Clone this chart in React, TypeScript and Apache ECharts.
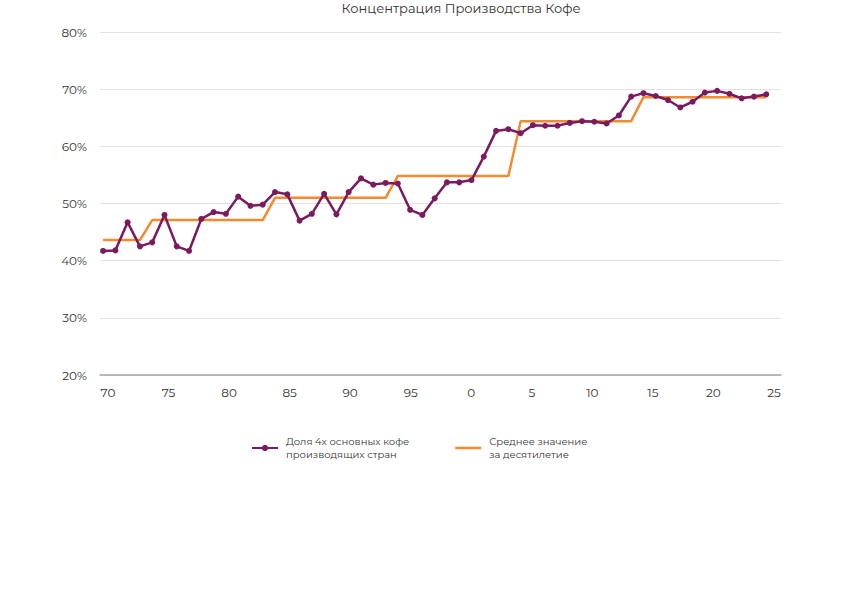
import React, { useEffect, useRef } from "react";
import * as echarts from "echarts";

const years: number[] = [];
for (let y = 1970; y <= 2024; y++) years.push(y);

const shareTop4: number[] = [
  41.7, 41.8, 46.7, 42.5, 43.2, 48.0, 42.5, 41.7, 47.3, 48.5,
  48.2, 51.2, 49.6, 49.8, 52.0, 51.6, 47.0, 48.2, 51.7, 48.1,
  52.0, 54.4, 53.3, 53.6, 53.5, 48.9, 48.0, 50.9, 53.7, 53.7,
  54.1, 58.2, 62.7, 63.0, 62.3, 63.7, 63.6, 63.6, 64.1, 64.4,
  64.3, 64.0, 65.4, 68.7, 69.3, 68.8, 68.1, 66.8, 67.8, 69.4,
  69.7, 69.2, 68.4, 68.7, 69.1,
];

const decadeAvg: number[] = [
  43.6, 43.6, 43.6, 43.6,
  47.1, 47.1, 47.1, 47.1, 47.1, 47.1, 47.1, 47.1, 47.1, 47.1,
  51.0, 51.0, 51.0, 51.0, 51.0, 51.0, 51.0, 51.0, 51.0, 51.0,
  54.8, 54.8, 54.8, 54.8, 54.8, 54.8, 54.8, 54.8, 54.8, 54.8,
  64.4, 64.4, 64.4, 64.4, 64.4, 64.4, 64.4, 64.4, 64.4, 64.4,
  68.6, 68.6, 68.6, 68.6, 68.6, 68.6, 68.6, 68.6, 68.6, 68.6, 68.6,
];

const xTicks: number[] = [1970, 1975, 1980, 1985, 1990, 1995, 2000, 2005, 2010, 2015, 2020, 2025];

const title = "Концентрация Производства Кофе";
const seriesNames = ["Доля 4х основных кофе\nпроизводящих стран", "Среднее значение\nза десятилетие"];

const FONT = "Montserrat, 'Noto Sans', sans-serif";
const PURPLE = "#7b1b5f";
const ORANGE = "#f28a2e";

export default function App() {
  const ref = useRef<HTMLDivElement>(null);
  useEffect(() => {
    if (!ref.current) return;
    const chart = echarts.init(ref.current, undefined, { renderer: "svg" });
    chart.setOption({
      animation: false,
      backgroundColor: "#ffffff",
      textStyle: { fontFamily: FONT },
      title: {
        text: title,
        left: 456,
        textAlign: "center",
        top: -4,
        textStyle: { fontSize: 13, fontWeight: "normal", color: "#333333", fontFamily: FONT },
      },
      grid: { left: 100, right: 61, top: 32, bottom: 220, containLabel: false },
      legend: {
        top: 430,
        left: 246,
        itemGap: 46,
        itemWidth: 26,
        itemHeight: 8,
        textStyle: { fontSize: 10, color: "#333333", fontFamily: FONT, lineHeight: 13, padding: [0, 0, 0, 3] },
        data: [
          { name: seriesNames[0] },
          {
            name: seriesNames[1],
            icon: "path://M0,0 L0.01,0 L0.01,0.01 Z M0,2.75 L26,2.75 L26,5.25 L0,5.25 Z M25.99,7.99 L26,8 L25.99,8 Z",
          },
        ],
      },
      xAxis: [
        {
          type: "value",
          min: 1969.75,
          max: 2025.2,
          splitLine: { show: false },
          axisLine: { show: true, lineStyle: { color: "#a6a6a6", width: 1.5 } },
          axisTick: { show: false },
          axisLabel: { show: false },
        },
        {
          type: "value",
          position: "bottom",
          min: 1969.34,
          max: 2025.58,
          splitLine: { show: false },
          axisLine: { show: false },
          axisTick: { show: false },
          axisLabel: {
            customValues: xTicks,
            formatter: (v: number) => String(v % 100),
            color: "#333333",
            fontSize: 12,
            margin: 11,
            fontFamily: FONT,
          },
        },
      ],
      yAxis: {
        type: "value",
        min: 20,
        max: 80,
        interval: 10,
        axisLine: { show: false },
        axisTick: { show: false },
        splitLine: { lineStyle: { color: "#e3e3e3", width: 1 } },
        axisLabel: {
          formatter: "{value}%",
          color: "#333333",
          fontSize: 12,
          margin: 13,
          fontFamily: FONT,
        },
      },
      series: [
        {
          name: seriesNames[1],
          type: "line",
          xAxisIndex: 0,
          data: years.map((y, i) => [y, decadeAvg[i]]),
          showSymbol: false,
          symbol: "none",
          lineStyle: { color: ORANGE, width: 2.5 },
          itemStyle: { color: ORANGE },
          z: 2,
        },
        {
          name: seriesNames[0],
          type: "line",
          xAxisIndex: 0,
          data: years.map((y, i) => [y, shareTop4[i]]),
          symbol: "circle",
          symbolSize: 6,
          lineStyle: { color: PURPLE, width: 2.5 },
          itemStyle: { color: PURPLE },
          z: 3,
        },
      ],
    });
    return () => chart.dispose();
  }, []);
  return <div ref={ref} style={{ width: 842, height: 595, position: "absolute", left: 0, top: 0 }} />;
}
